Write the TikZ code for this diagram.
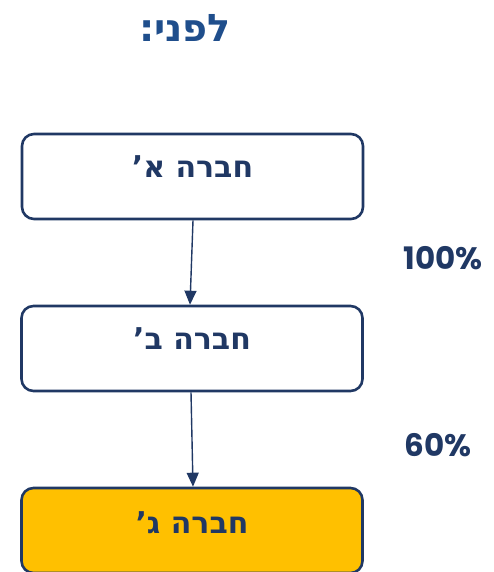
\documentclass[tikz,border=0pt]{standalone}
\usepackage{fontspec}
\setmainfont{Liberation Sans}
\newfontfamily\hebfont[Script=Hebrew]{DejaVu Sans}
\newfontfamily\pctfont{Poppins}
\TeXXeTstate=1
\usetikzlibrary{arrows.meta,positioning}
\definecolor{navy}{RGB}{32,56,100}
\definecolor{titleblue}{RGB}{31,78,140}
\definecolor{gold}{RGB}{255,192,0}

\begin{document}
\begin{tikzpicture}[>={Triangle[length=14pt,width=12pt]},
  compbox/.style={draw=navy,line width=2.6pt,rounded corners=12pt,
    minimum width=341pt,minimum height=85pt,inner sep=0pt,fill=white},
  boxtext/.style={text=navy,font=\hebfont\bfseries\fontsize{30}{34}\selectfont},
  pcttext/.style={text=navy,font=\pctfont\bfseries\fontsize{31}{36}\selectfont},
  link/.style={draw=navy,line width=1.4pt,->},
]
\useasboundingbox (0,0) rectangle (494pt,572pt);
\node[text=titleblue,font=\hebfont\bfseries\fontsize{38}{42}\selectfont] (title) at (185pt,544pt) {\beginR לפני:\endR};
\node[compbox] (compA) at (192.5pt,395.5pt) {};
\node[compbox] (compB) at (192pt,223.5pt) {};
\node[compbox,fill=gold] (compC) at (192pt,41.5pt) {};
\node[boxtext] (labA) at ([yshift=10pt]compA.center) {\beginR חברה א’\endR};
\node[boxtext] (labB) at ([yshift=10pt]compB.center) {\beginR חברה ב’\endR};
\node[boxtext] (labC) at ([yshift=8pt]compC.center) {\beginR חברה ג’\endR};
\node[pcttext] (pctAB) at (443pt,314pt) {100\%};
\node[pcttext] (pctBC) at (438pt,127pt) {60\%};
\draw[link] ([xshift=0.5pt]compA.south) -- ([xshift=-2pt]compB.north);
\draw[link] ([xshift=-1pt]compB.south) -- ([xshift=1pt]compC.north);
\end{tikzpicture}
\end{document}
